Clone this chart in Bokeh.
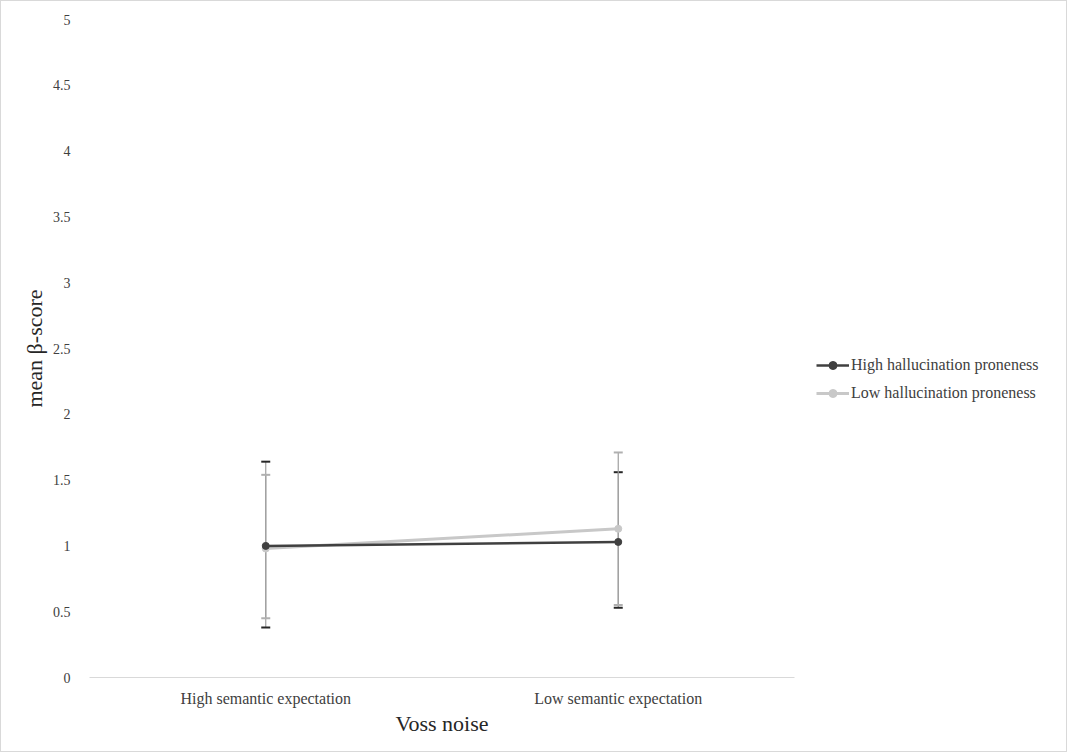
from bokeh.plotting import figure
from bokeh.layouts import row
from bokeh.models import (ColumnDataSource, Range1d, FactorRange, FixedTicker, Whisker,
                          TeeHead, Legend, LegendItem)
from bokeh.embed import file_html
from bokeh.resources import INLINE

categories = ["High semantic expectation", "Low semantic expectation"]
series_names = ["High hallucination proneness", "Low hallucination proneness"]
high_mean = [1.00, 1.03]
high_upper = [1.64, 1.56]
high_lower = [0.38, 0.53]
low_mean = [0.98, 1.13]
low_upper = [1.54, 1.71]
low_lower = [0.45, 0.55]
y_ticks = [0, 0.5, 1, 1.5, 2, 2.5, 3, 3.5, 4, 4.5, 5]
y_tick_labels = ["0", "0.5", "1", "1.5", "2", "2.5", "3", "3.5", "4", "4.5", "5"]

FONT = "Liberation Serif"
DARK = "#404040"
LIGHT = "#c8c8c8"
BORDER = "1px solid #d9d9d9"

p = figure(width=800, height=752, x_range=FactorRange(*categories, range_padding=0),
           y_range=Range1d(0, 5), output_backend="svg", toolbar_location=None,
           min_border_left=88, min_border_right=7, min_border_top=18, min_border_bottom=76)
p.outline_line_color = None
p.xgrid.grid_line_color = None
p.ygrid.grid_line_color = None
p.background_fill_color = "white"
p.border_fill_color = "white"
p.styles = {"border-left": BORDER, "border-top": BORDER, "border-bottom": BORDER,
            "box-sizing": "border-box"}

# axes
p.yaxis.ticker = FixedTicker(ticks=y_ticks)
p.yaxis.major_label_overrides = {t: l for t, l in zip(y_ticks, y_tick_labels)}
p.yaxis.axis_line_color = None
p.yaxis.major_tick_line_color = None
p.yaxis.minor_tick_line_color = None
p.yaxis.major_label_standoff = 13
p.yaxis.axis_label = "mean β-score"
p.yaxis.axis_label_standoff = 3
p.yaxis.axis_label_text_font = FONT
p.yaxis.axis_label_text_font_style = "normal"
p.yaxis.axis_label_text_font_size = "22px"
p.yaxis.axis_label_text_color = "#262626"

p.xaxis.axis_line_color = "#d9d9d9"
p.xaxis.major_tick_line_color = None
p.xaxis.minor_tick_line_color = None
p.xaxis.major_label_standoff = 6
p.xaxis.axis_label = "Voss noise"
p.xaxis.axis_label_standoff = 1
p.xaxis.axis_label_text_font = FONT
p.xaxis.axis_label_text_font_style = "normal"
p.xaxis.axis_label_text_font_size = "22px"
p.xaxis.axis_label_text_color = "#262626"

p.yaxis.major_label_text_font_size = "14px"
p.xaxis.major_label_text_font_size = "16px"
for ax in (p.xaxis, p.yaxis):
    ax.major_label_text_font = FONT
    ax.major_label_text_color = "#404040"

# error bars
src_hi_err = ColumnDataSource(dict(x=categories, lower=high_lower, upper=high_upper))
src_lo_err = ColumnDataSource(dict(x=categories, lower=low_lower, upper=low_upper))
for src, cap_col in ((src_hi_err, "#262626"), (src_lo_err, "#b0b0b0")):
    w = Whisker(source=src, base="x", lower="lower", upper="upper", dimension="height",
                line_color="#a0a0a0", line_width=1.2,
                upper_head=TeeHead(size=9, line_color=cap_col, line_width=2),
                lower_head=TeeHead(size=9, line_color=cap_col, line_width=2))
    p.add_layout(w)

src_hi = ColumnDataSource(dict(x=categories, y=high_mean))
src_lo = ColumnDataSource(dict(x=categories, y=low_mean))

p.line("x", "y", source=src_lo, line_color=LIGHT, line_width=3)
p.scatter("x", "y", source=src_lo, size=7, color=LIGHT)
p.line("x", "y", source=src_hi, line_color=DARK, line_width=2.5)
p.scatter("x", "y", source=src_hi, size=7, color=DARK)

# legend panel (separate figure to the right so the legend is not clipped by the frame);
# its proxy renderers share the data but lie outside its visible y range
q = figure(width=267, height=752, output_backend="svg", toolbar_location=None,
           x_range=FactorRange(*categories, range_padding=0), y_range=Range1d(10, 11),
           min_border_left=0, min_border_right=0, min_border_top=0, min_border_bottom=0)
q.axis.visible = False
q.grid.visible = False
q.outline_line_color = None
q.border_fill_color = "white"
q.styles = {"border-right": BORDER, "border-top": BORDER, "border-bottom": BORDER,
            "box-sizing": "border-box"}
ql_hi = q.line("x", "y", source=src_hi, line_color=DARK, line_width=2.5)
qm_hi = q.scatter("x", "y", source=src_hi, size=7, color=DARK)
ql_lo = q.line("x", "y", source=src_lo, line_color=LIGHT, line_width=3)
qm_lo = q.scatter("x", "y", source=src_lo, size=7, color=LIGHT)

legend = Legend(items=[LegendItem(label=series_names[0], renderers=[ql_hi, qm_hi]),
                       LegendItem(label=series_names[1], renderers=[ql_lo, qm_lo])],
                location=(16, 274), orientation="vertical",
                glyph_width=33, glyph_height=20, label_height=20, label_standoff=2,
                spacing=8, padding=0, margin=0,
                label_text_font=FONT, label_text_font_size="16px", label_text_color="#404040",
                border_line_color=None, background_fill_alpha=0)
q.add_layout(legend, "center")

layout = row(p, q, spacing=0)
open("out.html", "w").write(file_html(layout, INLINE))
